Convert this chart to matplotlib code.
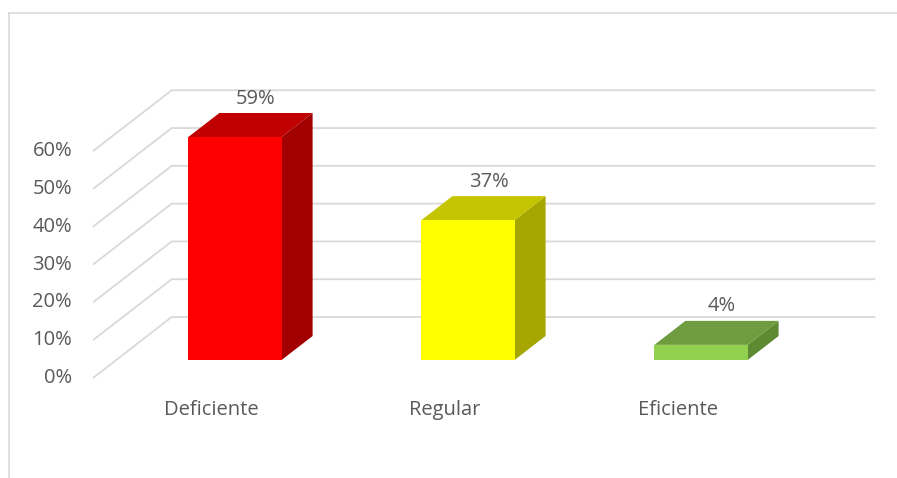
import numpy as np
import matplotlib.pyplot as plt
from matplotlib.patches import Polygon
from matplotlib.lines import Line2D

plt.rcParams['font.family'] = ['Open Sans', 'DejaVu Sans']

categorias = ['Deficiente', 'Regular', 'Eficiente']
valores = [0.59, 0.37, 0.04]
etiquetas = ['59%', '37%', '4%']
ticks = [0.0, 0.1, 0.2, 0.3, 0.4, 0.5, 0.6]
tick_labels = ['0%', '10%', '20%', '30%', '40%', '50%', '60%']

frente = ['#FF0000', '#FFFF00', '#92D050']
arriba = ['#C00000', '#C4C400', '#6E9C3E']
lado = ['#A20000', '#A6A600', '#5E8A32']

gris = '#D9D9D9'
texto = '#595959'
fs = 14.5

# oblique projection: depth z shifts x and y by (DX, DY) per unit
DX = 31 / 233
DY = 24 / 378
ancho = 0.40
z_frente, z_fondo = -0.75, 1.79
x_ini, x_fin = -0.51, 2.51


def proy(x, y, z):
    return x + z * DX, y + z * DY


fig = plt.figure(figsize=(8.97, 4.78), dpi=100)
ax = fig.add_axes([0, 0, 1, 1])
ax.set_xlim(-235 / 233, (897 - 235) / 233)
ax.set_ylim((360 - 478) / 378, 360 / 378)
ax.axis('off')

# side wall and back wall gridlines
for t in ticks:
    p0 = proy(x_ini, t, z_frente)
    p1 = proy(x_ini, t, z_fondo)
    p2 = proy(x_fin, t, z_fondo)
    ax.plot([p0[0], p1[0], p2[0]], [p0[1], p1[1], p2[1]],
            color=gris, lw=1.3, solid_capstyle='butt', zorder=1)

for t, lab in zip(ticks, tick_labels):
    px, py = proy(x_ini, t, z_frente)
    ax.annotate(lab, (px, py), xytext=(-15, 0), textcoords='offset points',
                ha='right', va='center', fontsize=fs, color=texto)

# 3d columns
for i, (v, et) in enumerate(zip(valores, etiquetas)):
    x0, x1 = i - ancho / 2, i + ancho / 2
    cara = [proy(x0, 0, 0), proy(x1, 0, 0), proy(x1, v, 0), proy(x0, v, 0)]
    tapa = [proy(x0, v, 0), proy(x1, v, 0), proy(x1, v, 1), proy(x0, v, 1)]
    costado = [proy(x1, 0, 0), proy(x1, 0, 1), proy(x1, v, 1), proy(x1, v, 0)]
    ax.add_patch(Polygon(costado, closed=True, facecolor=lado[i], edgecolor='none', zorder=3))
    ax.add_patch(Polygon(tapa, closed=True, facecolor=arriba[i], edgecolor='none', zorder=3))
    ax.add_patch(Polygon(cara, closed=True, facecolor=frente[i], edgecolor='none', zorder=4))
    tx, ty = proy(i, v, 0.5)
    ax.annotate(et, (tx, ty), xytext=(4, 19), textcoords='offset points',
                ha='center', va='center', fontsize=fs, color=texto)

for i, cat in enumerate(categorias):
    px, py = proy(i, 0, z_frente)
    ax.annotate(cat, (px, py), xytext=(0, -23), textcoords='offset points',
                ha='center', va='center', fontsize=fs, color=texto)

# chart area border (top and left edges visible)
fig.add_artist(Line2D([8.5 / 897, 1], [1 - 12.5 / 478, 1 - 12.5 / 478],
                      transform=fig.transFigure, color=gris, lw=1.2))
fig.add_artist(Line2D([8.5 / 897, 8.5 / 897], [0, 1 - 12.5 / 478],
                      transform=fig.transFigure, color=gris, lw=1.2))

fig.savefig('out.png', dpi=100, facecolor='white')
